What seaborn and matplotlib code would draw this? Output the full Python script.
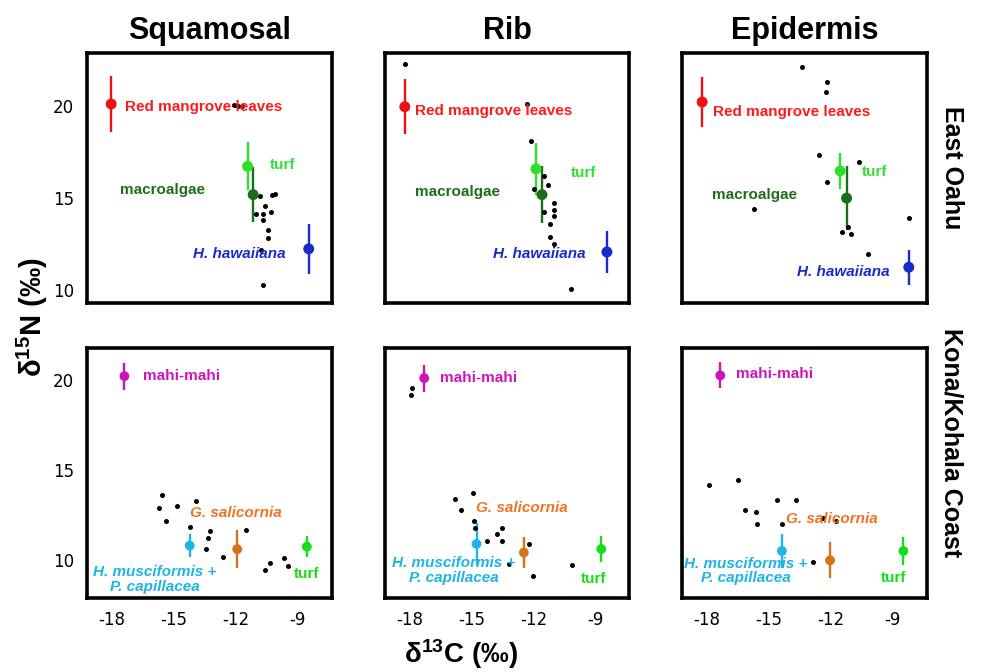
import numpy as np
import pandas as pd
import matplotlib
matplotlib.use('Agg')
import matplotlib.pyplot as plt
import seaborn as sns

# --- data (x = d13C, y = d15N) ---
# black dots = individual specimens
sq_oahu_dx = [-12.07, -11.91, -11.72, -10.84, -10.26, -10.10, -10.58, -11.01, -10.66, -10.31, -10.68, -10.42, -10.45, -10.77, -10.69]
sq_oahu_dy = [20.09, 20.00, 20.02, 15.12, 15.16, 15.23, 14.60, 14.17, 14.17, 14.28, 13.80, 13.26, 12.82, 12.18, 10.30]
rib_oahu_dx = [-18.22, -12.29, -12.10, -11.48, -11.31, -11.96, -11.02, -10.98, -11.02, -11.50, -11.18, -11.18, -10.98, -10.19]
rib_oahu_dy = [22.29, 20.13, 18.14, 16.23, 15.75, 15.49, 14.75, 14.35, 14.02, 14.24, 13.60, 12.90, 12.54, 10.06]
epi_oahu_dx = [-13.38, -12.17, -12.25, -12.57, -10.62, -12.17, -15.72, -8.23, -11.17, -11.44, -11.01, -10.18]
epi_oahu_dy = [22.15, 21.33, 20.81, 17.37, 16.96, 15.86, 14.44, 13.93, 13.46, 13.19, 13.04, 11.99]

sq_kona_dx = [-15.57, -15.70, -14.83, -13.93, -15.36, -14.20, -13.23, -13.33, -13.44, -12.64, -11.51, -10.59, -10.33, -9.69, -9.45]
sq_kona_dy = [13.63, 12.90, 13.01, 13.31, 12.18, 11.87, 11.63, 11.25, 10.64, 10.18, 11.68, 9.45, 9.87, 10.13, 9.67]
rib_kona_dx = [-17.87, -17.92, -15.80, -14.93, -15.51, -14.88, -14.83, -13.53, -13.77, -14.25, -13.54, -13.17, -12.20, -12.01, -10.14]
rib_kona_dy = [19.57, 19.17, 13.40, 13.75, 12.79, 12.18, 11.81, 11.77, 11.48, 11.09, 11.09, 9.80, 10.91, 9.13, 9.76]
epi_kona_dx = [-17.92, -16.51, -14.63, -13.68, -16.15, -15.63, -15.58, -14.37, -12.38, -11.75, -12.88]
epi_kona_dy = [14.21, 14.49, 13.38, 13.36, 12.81, 12.68, 12.03, 12.00, 12.37, 12.18, 9.91]

# source means +/- sd
oahu_sources = ['Red mangrove leaves', 'turf', 'macroalgae', 'H. hawaiiana']
sq_oahu_sx = [-18.03, -11.43, -11.16, -8.47]
sq_oahu_sy = [20.13, 16.74, 15.20, 12.25]
sq_oahu_se = [1.50, 1.30, 1.50, 1.35]
rib_oahu_sx = [-18.22, -11.87, -11.58, -8.44]
rib_oahu_sy = [19.98, 16.60, 15.20, 12.08]
rib_oahu_se = [1.50, 1.40, 1.55, 1.15]
epi_oahu_sx = [-18.23, -11.55, -11.24, -8.23]
epi_oahu_sy = [20.24, 16.49, 15.01, 11.25]
epi_oahu_se = [1.35, 1.00, 1.75, 0.95]

kona_sources = ['mahi-mahi', 'H. musciformis +\nP. capillacea', 'G. salicornia', 'turf']
sq_kona_sx = [-17.39, -14.23, -11.93, -8.56]
sq_kona_sy = [20.24, 10.82, 10.62, 10.76]
sq_kona_se = [0.75, 0.65, 1.05, 0.60]
rib_kona_sx = [-17.28, -14.75, -12.46, -8.71]
rib_kona_sy = [20.13, 10.91, 10.43, 10.63]
rib_kona_se = [0.75, 1.15, 0.85, 0.70]
epi_kona_sx = [-17.35, -14.37, -12.04, -8.49]
epi_kona_sy = [20.28, 10.52, 10.00, 10.52]
epi_kona_se = [0.72, 0.92, 1.00, 0.78]

tissues = ['Squamosal', 'Rib', 'Epidermis']
regions = ['East Oahu', 'Kona/Kohala Coast']
x_ticks = [-18, -15, -12, -9]
y_ticks = [10, 15, 20]

# --- styling ---
sns.set_style('white')
plt.rcParams['font.family'] = ['DejaVu Sans']
plt.rcParams['text.color'] = 'black'
plt.rcParams['xtick.color'] = 'black'
plt.rcParams['ytick.color'] = 'black'
plt.rcParams['axes.unicode_minus'] = False
plt.rcParams['mathtext.fontset'] = 'custom'
plt.rcParams['mathtext.rm'] = 'Liberation Sans:bold'
plt.rcParams['mathtext.bf'] = 'Liberation Sans:bold'
plt.rcParams['mathtext.default'] = 'bf'
LAB = 'Liberation Sans'

oahu_marker = ['#ee1111', '#2ee02e', '#1c6e1c', '#1a2cc8']
oahu_text = ['#ff1a1a', '#33e033', '#1c6e1c', '#1a2cc8']
kona_marker = ['#cc14b8', '#1eb4e6', '#d4731a', '#18dd18']
kona_text = ['#cc14b8', '#1eb4e6', '#f07420', '#18dd18']

# label anchors (x, y, ha) per panel
oahu_lab = [
    [(-17.36, 19.94, 'left'), (-10.34, 16.80, 'left'), (-17.60, 15.44, 'left'), (-9.58, 11.99, 'right')],
    [(-17.74, 19.76, 'left'), (-10.18, 16.40, 'left'), (-17.71, 15.34, 'left'), (-9.45, 11.99, 'right')],
    [(-17.68, 19.67, 'left'), (-10.49, 16.45, 'left'), (-17.76, 15.16, 'left'), (-9.16, 11.00, 'right')],
]
kona_lab = [
    [(-16.50, 20.24, 'left'), (-15.91, 8.93, 'center'), (-14.22, 12.62, 'left'), (-9.21, 9.25, 'left')],
    [(-16.52, 20.13, 'left'), (-15.85, 9.44, 'center'), (-14.78, 12.92, 'left'), (-9.72, 8.94, 'left')],
    [(-16.61, 20.37, 'left'), (-16.11, 9.40, 'center'), (-14.15, 12.27, 'left'), (-9.58, 9.02, 'left')],
]

dots = [[(sq_oahu_dx, sq_oahu_dy), (rib_oahu_dx, rib_oahu_dy), (epi_oahu_dx, epi_oahu_dy)],
        [(sq_kona_dx, sq_kona_dy), (rib_kona_dx, rib_kona_dy), (epi_kona_dx, epi_kona_dy)]]
means = [[(sq_oahu_sx, sq_oahu_sy, sq_oahu_se), (rib_oahu_sx, rib_oahu_sy, rib_oahu_se), (epi_oahu_sx, epi_oahu_sy, epi_oahu_se)],
         [(sq_kona_sx, sq_kona_sy, sq_kona_se), (rib_kona_sx, rib_kona_sy, rib_kona_se), (epi_kona_sx, epi_kona_sy, epi_kona_se)]]

fig, axes = plt.subplots(2, 3, figsize=(9.83, 6.72), dpi=100)
fig.subplots_adjust(left=0.0885, right=0.943, top=0.921, bottom=0.110, wspace=0.215, hspace=0.18)

for r in range(2):
    names = oahu_sources if r == 0 else kona_sources
    mcol = oahu_marker if r == 0 else kona_marker
    tcol = oahu_text if r == 0 else kona_text
    labs = oahu_lab if r == 0 else kona_lab
    for c in range(3):
        ax = axes[r, c]
        dx, dy = dots[r][c]
        sx, sy, se = means[r][c]

        sns.scatterplot(x=dx, y=dy, ax=ax, color='black', s=13, linewidth=0, zorder=3)

        src = pd.DataFrame({'name': names, 'x': sx, 'y': sy, 'sd': se})
        for i, row in src.iterrows():
            ax.errorbar(row['x'], row['y'], yerr=row['sd'], fmt='none', ecolor=mcol[i], elinewidth=1.7, capsize=0, zorder=2)
        sns.scatterplot(data=src, x='x', y='y', hue='name', palette=dict(zip(names, mcol)),
                        s=62 if r == 0 else 50, linewidth=0, legend=False, ax=ax, zorder=4)

        for i, name in enumerate(names):
            lx, ly, ha = labs[c][i]
            italic = name.startswith(('H.', 'G.'))
            ax.text(lx, ly, name, ha=ha, va='center', multialignment='center', color=tcol[i],
                    fontsize=11, fontweight='bold', fontstyle='italic' if italic else 'normal',
                    family=LAB, linespacing=1.05, zorder=5)

        ax.set_xlim(-19.2, -7.35)
        ax.set_ylim((9.3, 22.9) if r == 0 else (7.9, 21.8))
        ax.set_xticks(x_ticks)
        ax.set_yticks(y_ticks)
        ax.set_xlabel('')
        ax.set_ylabel('')
        for sp in ax.spines.values():
            sp.set_linewidth(2.6)
            sp.set_color('black')
        ax.tick_params(axis='both', direction='out', length=6, width=1.8, labelsize=12, color='black',
                       labelcolor='black')
        ax.tick_params(axis='x', labelbottom=(r == 1), pad=3)
        if c > 0:
            ax.tick_params(axis='y', left=False, labelleft=False)

        if r == 0:
            ax.set_title(tissues[c], fontsize=22, fontweight='bold', family=LAB, pad=10, color='black')

fig.text(952 / 983, 1 - 168 / 672, regions[0], rotation=270, ha='center', va='center',
         fontsize=18, fontweight='bold', family=LAB)
fig.text(952 / 983, 1 - 443 / 672, regions[1], rotation=270, ha='center', va='center',
         fontsize=18, fontweight='bold', family=LAB)
fig.text(32 / 983, 1 - 317 / 672, 'δ$^{15}$N (‰)', rotation=90, ha='center', va='center',
         fontsize=21, fontweight='bold', family=LAB)
fig.text(461 / 983, 1 - 654 / 672, 'δ$^{13}$C (‰)', ha='center', va='center',
         fontsize=20, fontweight='bold', family=LAB)

fig.savefig('out.png', dpi=100)
